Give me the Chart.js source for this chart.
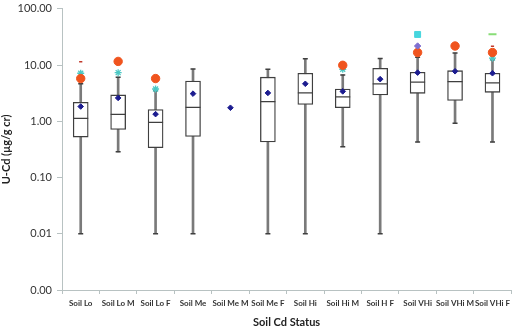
<!DOCTYPE html>
<html>
<head>
<meta charset="utf-8">
<script src="https://cdn.jsdelivr.net/npm/chart.js@4/dist/chart.umd.min.js"></script>
<style>
  html, body { margin: 0; padding: 0; background: #ffffff; }
  #wrap { width: 520px; height: 329px; position: relative; }
  canvas { display: block; }
</style>
</head>
<body>
<div id="wrap"><canvas id="c" width="520" height="329"></canvas></div>
<script>
const categories = ["Soil Lo", "Soil Lo M", "Soil Lo F", "Soil Me", "Soil Me M", "Soil Me F",
                    "Soil Hi", "Soil Hi M", "Soil H F", "Soil VHi", "Soil VHi M", "Soil VHi F"];
const q1 =         [0.524, 0.715, 0.34, 0.539, null, 0.428, 1.99, 1.74, 2.94, 3.14, 2.34, 3.27];
const q3 =         [2.18, 2.94, 1.62, 5.18, null, 6.08, 7.15, 3.75, 8.75, 7.45, 7.94, 7.15];
const medians =    [1.13, 1.33, 0.96, 1.76, null, 2.24, 3.19, 2.71, 4.64, 4.97, 5.09, 4.83];
const whiskerMin = [0.01, 0.286, 0.01, 0.01, null, 0.01, 0.01, 0.354, 0.01, 0.428, 0.92, 0.428];
const whiskerMax = [4.64, 6.08, 3.54, 8.5, null, 8.4, 12.9, 6.68, 13.1, 13.8, 16.4, 12.6];
const means =      [1.83, 2.6, 1.34, 3.1, 1.74, 3.19, 4.64, 3.4, 5.61, 7.33, 7.75, 7.15];
const orangeMarks = [5.75, 11.6, 5.75, null, null, null, null, 9.9, null, 16.7, 21.8, 16.7];
const cyanStars =   [7.15, 7.33, 3.75, null, null, null, null, 8.4, null, null, null, 13.3];
const redDashes =   [11.5, null, null, null, null, null, null, null, null, null, null, 21.5];
const purpleDiamonds = [null, null, null, null, null, null, null, null, null, 21.8, null, null];
const cyanSquares = [null, null, null, null, null, null, null, null, null, 35, null, null];
const greenDashes = [null, null, null, null, null, null, null, null, null, null, null, 35.4];
const yTickValues = [0.001, 0.01, 0.1, 1, 10, 100];

const boxRanges = q1.map((v, i) => (v == null ? null : [v, q3[i]]));
const whiskerRanges = whiskerMin.map((v, i) => (v == null ? null : [v, whiskerMax[i]]));

function pts(data, style, color, radius, order, bw) {
  return {
    type: 'line', data: data, showLine: false, order: order,
    pointStyle: style, pointRadius: radius, pointHoverRadius: radius,
    pointBackgroundColor: color, pointBorderColor: color, pointBorderWidth: bw || 1
  };
}

const ctx = document.getElementById('c');
new Chart(ctx, {
  type: 'bar',
  data: {
    labels: categories,
    datasets: [
      { data: whiskerRanges, backgroundColor: '#7a7a7a', borderWidth: 0, barThickness: 2, grouped: false, order: 20 },
      { data: boxRanges, backgroundColor: '#ffffff', borderColor: '#3f3f3f', borderWidth: 1.3, borderSkipped: false, barThickness: 15, grouped: false, order: 19 },
      pts(medians, 'line', '#3f3f3f', 7.5, 18, 1.3),
      pts(whiskerMin, 'line', '#3f3f3f', 2.5, 17, 1.5),
      pts(whiskerMax, 'line', '#3f3f3f', 2.5, 16, 1.5),
      pts(cyanStars, 'star', '#4cc8c4', 3.5, 6, 1.3),
      pts(orangeMarks, 'circle', '#f0541e', 4.2, 5, 1),
      pts(redDashes, 'line', '#c0392b', 1.6, 4, 1.5),
      pts(purpleDiamonds, 'rectRot', '#7f6fd0', 3.2, 3, 1),
      pts(cyanSquares, 'rect', '#46d6de', 4.2, 2, 1),
      pts(greenDashes, 'line', '#88dd77', 4, 2, 2),
      pts(means, 'rectRot', '#1c1c90', 2.8, 1, 1)
    ]
  },
  options: {
    responsive: false,
    animation: false,
    devicePixelRatio: 1,
    layout: { padding: { left: 0, right: 2, top: 0, bottom: 0 } },
    plugins: { legend: { display: false }, tooltip: { enabled: false } },
    scales: {
      x: {
        type: 'category',
        offset: true,
        grid: { offset: true, drawOnChartArea: false, drawTicks: true, tickLength: 4, color: '#b8c2c2' },
        border: { color: '#b8c2c2', width: 1 },
        ticks: { color: '#333333', font: { family: 'Lato', size: 8, weight: 'bold' }, maxRotation: 0, autoSkip: false, padding: 5 },
        title: { display: true, text: 'Soil Cd Status', color: '#222222', font: { family: 'Lato', size: 11, weight: 'bold' }, padding: { top: 6, bottom: 0 } },
        afterFit: (s) => { s.height = 39; }
      },
      y: {
        type: 'logarithmic',
        min: 0.001, max: 100,
        afterBuildTicks: (s) => { s.ticks = yTickValues.map(v => ({ value: v })); },
        grid: { drawOnChartArea: false, drawTicks: true, tickLength: 5, color: '#b8c2c2' },
        border: { color: '#b8c2c2', width: 1 },
        ticks: { color: '#333333', font: { family: 'Lato', size: 11, lineHeight: 0.5 }, padding: 5,
                 callback: (v) => Number(v).toFixed(2) },
        title: { display: true, text: 'U-Cd (µg/g cr)', color: '#222222', font: { family: 'Lato', size: 11, weight: 'bold' }, padding: { top: 0, bottom: 2 } },
        afterFit: (s) => { s.width = 62; s.paddingTop = 0; s.paddingBottom = 0; }
      }
    }
  }
});
</script>
</body>
</html>
